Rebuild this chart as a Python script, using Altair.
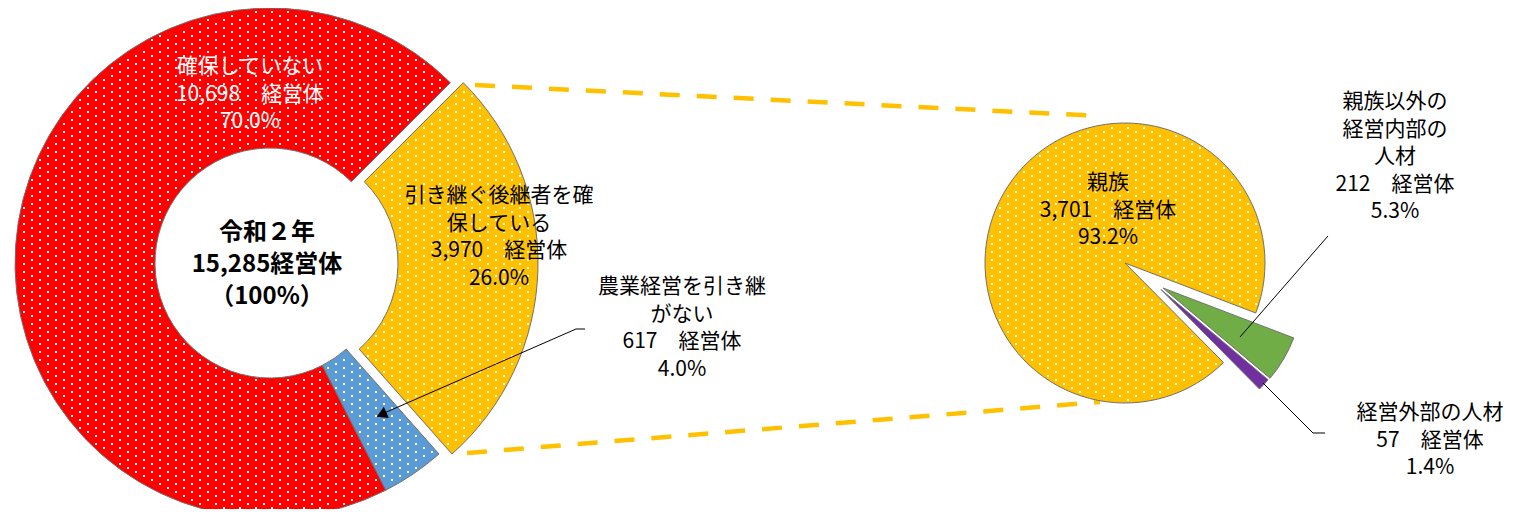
import math
import altair as alt
import pandas as pd

# ---------------- data ----------------
main_names = ["引き継ぐ後継者を確保している", "農業経営を引き継がない", "確保していない"]
main_values = [3970, 617, 10698]
main_colors = ["#FFC000", "#5B9BD5", "#FF0000"]
main_label_lines = [["引き継ぐ後継者を確", "保している"], ["農業経営を引き継", "がない"], ["確保していない"]]

sub_names = ["親族", "親族以外の経営内部の人材", "経営外部の人材"]
sub_values = [3701, 212, 57]
sub_colors = ["#FFC000", "#70AD47", "#7030A0"]
sub_label_lines = [["親族"], ["親族以外の", "経営内部の", "人材"], ["経営外部の人材"]]

year_label = "令和２年"
unit = "経営体"

# ---------------- layout ----------------
FONT = "Noto Sans CJK JP"
W, H = 1498, 501
L_CX, L_CY, L_RO, L_RI = 262, 255, 255, 115
L_START = math.radians(45)
L_OFF = [(13, 0), (0, 0), (0, 0)]
R_CX, R_CY, R_RO = 1117, 255, 140
R_START = math.radians(135.3)
R_OFF = [(0, 0), (38, 25), (36, 26.5)]
STROKE = "#707070"

main_total = sum(main_values)
sub_total = sum(sub_values)

main_df = pd.DataFrame({"name": main_names, "value": main_values, "order": list(range(3))})
sub_df = pd.DataFrame({"name": sub_names, "value": sub_values, "order": list(range(3))})
one = pd.DataFrame({"k": [0]})


def arc_layer(df, total, start, idx, cx, cy, ro, ri, color):
    return (
        alt.Chart(df)
        .transform_window(cum1="sum(value)", sort=[alt.SortField("order")], frame=[None, 0])
        .transform_calculate(cum0="datum.cum1 - datum.value")
        .transform_filter(f"datum.order == {idx}")
        .mark_arc(outerRadius=ro, innerRadius=ri, fill=color, stroke=STROKE, strokeWidth=1)
        .encode(
            theta=alt.Theta("cum0:Q", scale=alt.Scale(domain=[0, total], range=[start, start + 2 * math.pi])),
            theta2="cum1:Q",
            x=alt.value(cx),
            y=alt.value(cy),
        )
    )


def dot_layer(cx, cy, a0, a1, ri, ro, start, sx=16, sy=4):
    x0 = int((cx - ro) // sx) * sx - sx
    y0 = int((cy - ro) // (2 * sy)) * 2 * sy - 2 * sy
    ncols = int(2 * ro / sx) + 4
    nrows = int(2 * ro / sy) + 6
    n = ncols * nrows
    return (
        alt.Chart(alt.sequence(0, n, as_="i"))
        .transform_calculate(row=f"floor(datum.i / {ncols})")
        .transform_calculate(col=f"datum.i % {ncols}")
        .transform_calculate(py=f"{y0} + datum.row * {sy}")
        .transform_calculate(px=f"{x0} + datum.col * {sx} + (datum.row % 2) * {sx / 2}")
        .transform_calculate(ddx=f"datum.px - {cx}")
        .transform_calculate(ddy=f"datum.py - {cy}")
        .transform_calculate(rr="sqrt(datum.ddx * datum.ddx + datum.ddy * datum.ddy)")
        .transform_calculate(aa=f"atan2(datum.ddx, -datum.ddy) - {start}")
        .transform_calculate(an=f"datum.aa - 2 * PI * floor(datum.aa / (2 * PI)) + {start}")
        .transform_filter(
            f"datum.rr >= {ri + 2.5} && datum.rr <= {ro - 2.5} && "
            f"datum.an >= {a0} + 2 / datum.rr && datum.an <= {a1} - 2 / datum.rr"
        )
        .mark_square(size=4, color="white", opacity=1, strokeWidth=0)
        .encode(
            x=alt.X("px:Q", scale=None, axis=None),
            y=alt.Y("py:Q", scale=None, axis=None),
        )
    )


def text_layer(lines, x, y, size=21, color="black", bold=False, lh=27.5):
    # y is the middle of the first line
    return (
        alt.Chart(one)
        .mark_text(font=FONT, fontSize=size, fontWeight="bold" if bold else "normal", lineHeight=lh,
                   align="center", baseline="middle", color=color)
        .encode(x=alt.value(x), y=alt.value(y), text=alt.value(lines))
    )


def rule(x1, y1, x2, y2, color="black", width=1.0, dash=None):
    props = dict(color=color, strokeWidth=width, strokeCap="butt")
    if dash:
        props["strokeDash"] = dash
    return alt.Chart(one).mark_rule(**props).encode(
        x=alt.value(x1), y=alt.value(y1), x2=alt.value(x2), y2=alt.value(y2)
    )


def slice_angles(values, total, start):
    out = []
    c = 0
    for v in values:
        a0 = start + c / total * 2 * math.pi
        c += v
        a1 = start + c / total * 2 * math.pi
        out.append((a0, a1))
    return out


layers = []
# connector dashed lines (behind pies)
layers.append(rule(467, 77, 1092, 108, color="#FFC000", width=4.5, dash=[20, 17]))
layers.append(rule(459, 445, 1092, 394, color="#FFC000", width=4.5, dash=[20, 17]))

# left donut
for i, ((a0, a1), (dx, dy)) in enumerate(zip(slice_angles(main_values, main_total, L_START), L_OFF)):
    layers.append(arc_layer(main_df, main_total, L_START, i, L_CX + dx, L_CY + dy, L_RO, L_RI, main_colors[i]))
    layers.append(dot_layer(L_CX + dx, L_CY + dy, a0, a1, L_RI, L_RO, L_START))

# right pie
for i, ((a0, a1), (dx, dy)) in enumerate(zip(slice_angles(sub_values, sub_total, R_START), R_OFF)):
    layers.append(arc_layer(sub_df, sub_total, R_START, i, R_CX + dx, R_CY + dy, R_RO, 0, sub_colors[i]))
    if i == 0:
        layers.append(dot_layer(R_CX + dx, R_CY + dy, a0, a1, 0, R_RO, R_START))


def value_lines(v, total):
    return [f"{v:,}\u3000{unit}", f"{v / total * 100:.1f}%"]


# labels
layers.append(text_layer([year_label, f"{main_total:,}{unit}", "（100%）"], 259, 225, size=24, bold=True, lh=32))
layers.append(text_layer(main_label_lines[2] + value_lines(main_values[2], main_total), 242, 59, color="white"))
layers.append(text_layer(main_label_lines[0] + value_lines(main_values[0], main_total), 491, 188))
layers.append(text_layer(main_label_lines[1] + value_lines(main_values[1], main_total), 674, 279))
layers.append(text_layer(sub_label_lines[0] + value_lines(sub_values[0], sub_total), 1100, 175))
layers.append(text_layer(sub_label_lines[1] + value_lines(sub_values[1], sub_total), 1387, 94))
layers.append(text_layer(sub_label_lines[2] + value_lines(sub_values[2], sub_total), 1422, 405))

# leader lines
layers.append(rule(577, 321, 568, 321))
layers.append(rule(568, 321, 374, 406))
layers.append(
    alt.Chart(one)
    .mark_point(shape="triangle-up", filled=True, size=150, angle=246, color="black", opacity=1, strokeWidth=0)
    .encode(x=alt.value(373.5), y=alt.value(406.5))
)
layers.append(rule(1320, 228, 1232, 329))
layers.append(rule(1255, 375, 1305, 425))
layers.append(rule(1305, 425, 1317, 425))

chart = (
    alt.layer(*layers)
    .resolve_scale(theta="independent")
    .properties(width=W, height=H, padding=0, autosize=alt.AutoSizeParams(type="none"))
    .configure_view(stroke=None)
)

chart.save("out.html", embed_options={"renderer": "svg", "actions": False})
